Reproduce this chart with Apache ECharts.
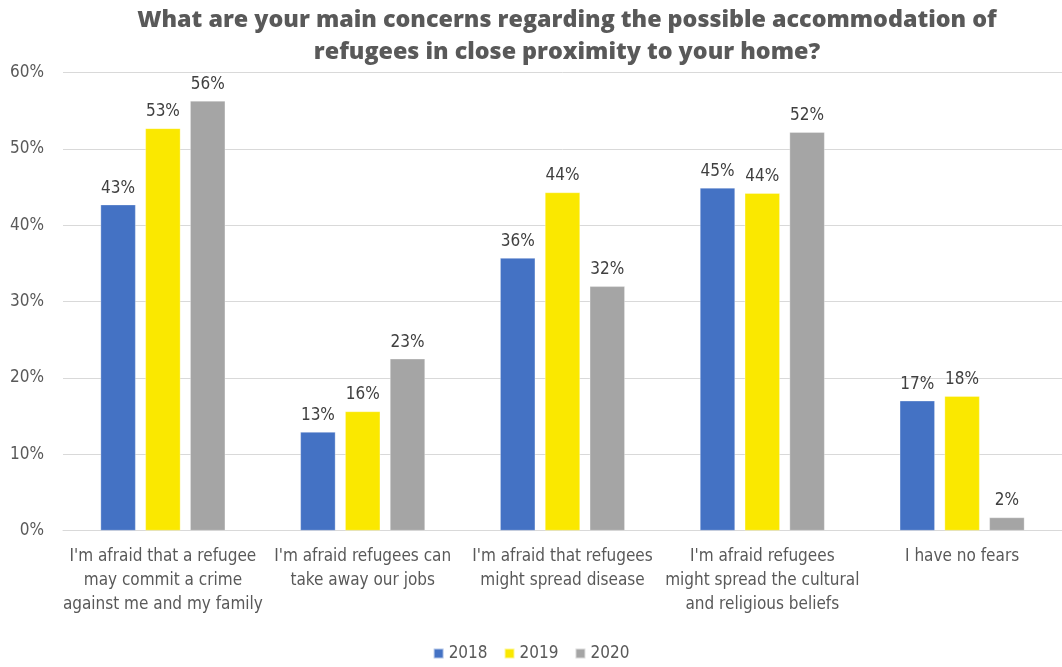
<!DOCTYPE html>
<html>
<head>
<meta charset="utf-8">
<script src="https://cdn.jsdelivr.net/npm/echarts@6/dist/echarts.min.js"></script>
<style>
  html, body { margin: 0; padding: 0; background: #fff; }
  #chart { width: 1062px; height: 667px; }
</style>
</head>
<body>
<div id="chart"></div>
<script>
const categories = [
  "I'm afraid that a refugee\nmay commit a crime\nagainst me and my family",
  "I'm afraid refugees can\ntake away our jobs",
  "I'm afraid that refugees\nmight spread disease",
  "I'm afraid refugees\nmight spread the cultural\nand religious beliefs",
  "I have no fears"
];
const seriesNames = ["2018", "2019", "2020"];
const values2018 = [42.7, 12.9, 35.7, 44.9, 17.0];
const values2019 = [52.7, 15.6, 44.3, 44.2, 17.6];
const values2020 = [56.3, 22.5, 32.0, 52.2, 1.7];
const yTicks = [0, 10, 20, 30, 40, 50, 60];

const colors = ["#4472C4", "#FAE800", "#A5A5A5"];
const labelFont = "'Liberation Sans Narrow', 'DejaVu Sans Condensed', sans-serif";

const chart = echarts.init(document.getElementById('chart'), null, { renderer: 'canvas' });

function barSeries(name, data, color) {
  return {
    name: name,
    type: 'bar',
    data: data,
    barWidth: 35,
    barGap: '28%',
    itemStyle: { color: color, borderColor: 'rgba(255,255,255,0.6)', borderWidth: 0.5 },
    label: {
      show: true,
      position: 'top',
      distance: 8,
      color: '#404040',
      fontSize: 17,
      fontFamily: labelFont,
      formatter: p => Math.round(p.value) + '%'
    }
  };
}

chart.setOption({
  animation: false,
  backgroundColor: '#ffffff',
  color: colors,
  graphic: [{
    type: 'text',
    x: 567,
    y: 4,
    style: {
      text: 'What are your main concerns regarding the possible accommodation of\nrefugees in close proximity to your home?',
      textAlign: 'center',
      textVerticalAlign: 'top',
      font: "800 23.3px 'Open Sans', sans-serif",
      fill: '#595959',
      lineHeight: 32
    }
  }],
  grid: { left: 63, right: 0, top: 72.7, bottom: 136.5, containLabel: false },
  legend: {
    data: seriesNames,
    bottom: 0,
    left: 'center',
    itemWidth: 10,
    itemHeight: 10,
    itemGap: 16,
    icon: 'rect',
    textStyle: { color: '#595959', fontSize: 17, fontFamily: labelFont }
  },
  xAxis: {
    type: 'category',
    data: categories,
    axisLine: { show: true, lineStyle: { color: '#D9D9D9', width: 1 } },
    axisTick: { show: false },
    axisLabel: {
      interval: 0,
      color: '#595959',
      fontSize: 17,
      fontFamily: labelFont,
      lineHeight: 24,
      margin: 14
    }
  },
  yAxis: {
    type: 'value',
    min: yTicks[0],
    max: yTicks[yTicks.length - 1],
    interval: 10,
    axisLine: { show: false },
    axisTick: { show: false },
    splitLine: { lineStyle: { color: '#D9D9D9', width: 1 } },
    axisLabel: {
      color: '#595959',
      fontSize: 17,
      fontFamily: labelFont,
      margin: 19,
      formatter: v => v + '%'
    }
  },
  series: [
    barSeries(seriesNames[0], values2018, colors[0]),
    barSeries(seriesNames[1], values2019, colors[1]),
    barSeries(seriesNames[2], values2020, colors[2])
  ]
});
</script>
</body>
</html>
